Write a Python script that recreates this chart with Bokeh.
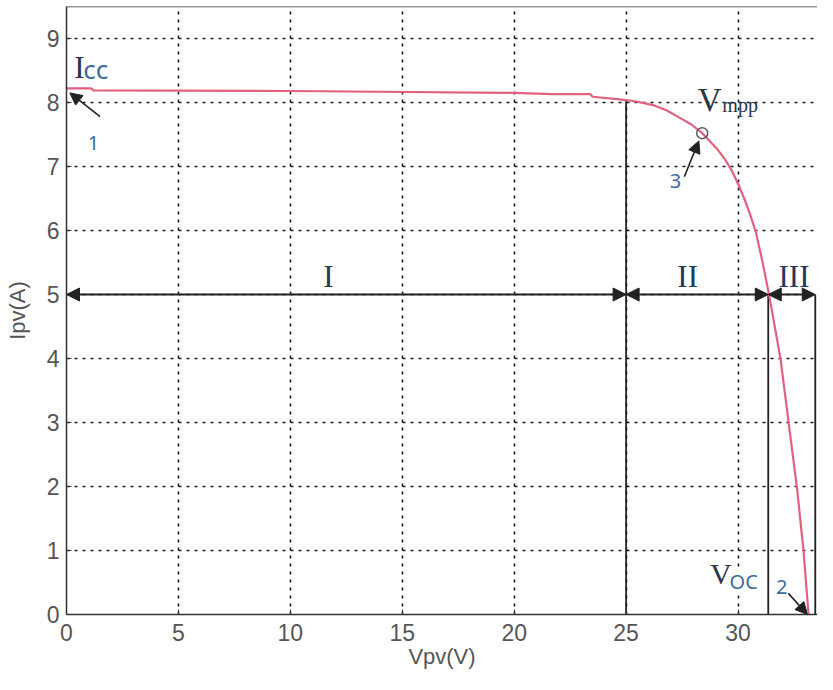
from bokeh.plotting import figure
from bokeh.models import Range1d, FixedTicker, Arrow, NormalHead, Span
from bokeh.core.properties import value
from bokeh.embed import file_html
from bokeh.resources import INLINE

# ---- data ----
vpv = [0.0, 1.1, 1.2, 10.0, 20.0, 21.7, 23.4, 23.5, 24.7, 25.4, 26.2, 26.8, 27.3,
       27.9, 28.4, 29.1, 29.4, 29.7, 30.0, 30.3, 30.55, 30.8, 31.1, 31.4, 31.9,
       32.27, 32.64, 32.93, 33.15]
ipv = [8.22, 8.22, 8.19, 8.18, 8.15, 8.13, 8.13, 8.09, 8.05, 8.02, 7.96, 7.88, 7.78,
       7.66, 7.52, 7.26, 7.12, 6.95, 6.73, 6.48, 6.24, 5.97, 5.5, 4.97, 3.99,
       2.97, 1.96, 0.98, 0.0]
x_ticks = [0, 5, 10, 15, 20, 25, 30]
y_ticks = [0, 1, 2, 3, 4, 5, 6, 7, 8, 9]
region_bounds = [0.0, 25.0, 31.35, 33.45]      # I | II | III
region_labels = ["I", "II", "III"]
region_label_x = [11.7, 27.75, 32.5]
boundary_tops = [8.04, 5.0, 5.0]                # upper ends of vertical lines at 25, 31.35, 33.45
region_level = 5.0
mpp_point = (28.4, 7.52)
isc = 8.22
voc = 33.1

X_END, Y_END = 33.55, 9.5

p = figure(width=817, height=674, output_backend="svg", toolbar_location=None,
           x_range=Range1d(0, X_END), y_range=Range1d(0, Y_END),
           min_border_left=66, min_border_right=0, min_border_top=6, min_border_bottom=60,
           background_fill_color="white", border_fill_color="white")
p.outline_line_color = None

tick_font = "Liberation Sans"
for ax in (p.xaxis[0], p.yaxis[0]):
    ax.axis_line_color = "#333333"
    ax.axis_line_width = 1.5
    ax.major_tick_in = 5
    ax.major_tick_out = 0
    ax.minor_tick_line_color = None
    ax.major_tick_line_color = "#333333"
    ax.major_label_text_font = tick_font
    ax.major_label_text_font_size = "23px"
    ax.major_label_text_color = "#555555"
    ax.axis_label_text_font = tick_font
    ax.axis_label_text_font_size = "22px"
    ax.axis_label_text_font_style = "normal"
    ax.axis_label_text_color = "#555555"

p.xaxis.ticker = FixedTicker(ticks=x_ticks)
p.yaxis.ticker = FixedTicker(ticks=y_ticks)
p.xaxis.axis_label = "Vpv(V)"
p.yaxis.axis_label = "Ipv(A)"
p.xaxis.major_label_standoff = 9
p.xaxis.axis_label_standoff = 0
p.yaxis.major_label_standoff = 7
p.yaxis.axis_label_standoff = 14

# top frame border
p.add_layout(Span(location=Y_END, dimension="width", line_color="#333333", line_width=1.5))

p.xgrid.ticker = FixedTicker(ticks=x_ticks)
p.ygrid.ticker = FixedTicker(ticks=y_ticks)
for g in (p.xgrid[0], p.ygrid[0]):
    g.grid_line_color = "#1a1a1a"
    g.grid_line_dash = "3 5"
    g.grid_line_width = 1.6
    g.grid_line_alpha = 1.0

# vertical boundary lines
p.segment(x0=region_bounds[1:], y0=[0, 0, 0], x1=region_bounds[1:], y1=boundary_tops,
          line_color="#222222", line_width=1.8)

# region double arrows
for a, b in zip(region_bounds[:-1], region_bounds[1:]):
    p.add_layout(Arrow(x_start=a, y_start=region_level, x_end=b, y_end=region_level,
                       line_color="#222222", line_width=1.8,
                       start=NormalHead(size=13, fill_color="#222222", line_color="#222222"),
                       end=NormalHead(size=13, fill_color="#222222", line_color="#222222")))

# I-V curve
p.line(vpv, ipv, line_color="#e0627e", line_width=2.2)

# MPP marker
p.scatter([mpp_point[0]], [mpp_point[1]], marker="circle", size=11,
          fill_color=None, line_color="#555555", line_width=1.4)

# region labels
p.text(x=region_label_x, y=[5.28, 5.28, 5.28], text=region_labels,
       text_font=value("Liberation Serif"), text_font_size="31px",
       text_color="#223a5c", text_align="center", text_baseline="alphabetic")

serif = value("Liberation Serif")
sans = value("Noto Sans")
blue = "#3d6c9c"
dark = "#2a3547"
arrow_kw = dict(line_color="#222222", line_width=1.6)

def head():
    return NormalHead(size=12, fill_color="#222222", line_color="#222222")

# Icc
p.text(x=[0.35], y=[8.54], text=["I"], text_font=serif, text_font_size="31px",
       text_color=dark, text_baseline="alphabetic")
p.text(x=[0.75], y=[8.52], text=["cc"], text_font=sans, text_font_size="26px",
       text_color=blue, text_baseline="alphabetic")
p.text(x=[1.2], y=[7.37], text=["1"], text_font=sans, text_font_size="20px",
       text_color=blue, text_align="center", text_baseline="middle")
p.add_layout(Arrow(x_start=1.5, y_start=7.78, x_end=0.15, y_end=isc - 0.07,
                   end=head(), **arrow_kw))

# Vmpp
p.text(x=[28.2], y=[8.04], text=["V"], text_font=serif, text_font_size="33px",
       text_color=dark, text_baseline="alphabetic")
p.text(x=[29.3], y=[7.96], text=["mpp"], text_font=serif, text_font_size="20px",
       text_color=dark, text_baseline="alphabetic")
p.text(x=[27.2], y=[6.77], text=["3"], text_font=sans, text_font_size="20px",
       text_color=blue, text_align="center", text_baseline="middle")
p.add_layout(Arrow(x_start=27.6, y_start=6.84, x_end=28.25, y_end=7.4,
                   end=head(), **arrow_kw))

# Voc (white background hides the grid behind, as in the reference)
p.text(x=[28.75], y=[0.64], text=["V"], text_font=serif, text_font_size="30px",
       text_color=dark, text_baseline="alphabetic", background_fill_color="white")
p.text(x=[29.62], y=[0.51], text=["OC"], text_font=sans, text_font_size="20px",
       text_color=blue, text_baseline="alphabetic", background_fill_color="white")
p.text(x=[31.95], y=[0.43], text=["2"], text_font=sans, text_font_size="20px",
       text_color=blue, text_align="center", text_baseline="middle")
p.add_layout(Arrow(x_start=32.25, y_start=0.33, x_end=voc, y_end=0.0,
                   end=head(), **arrow_kw))

open("out.html", "w").write(file_html(p, INLINE))
